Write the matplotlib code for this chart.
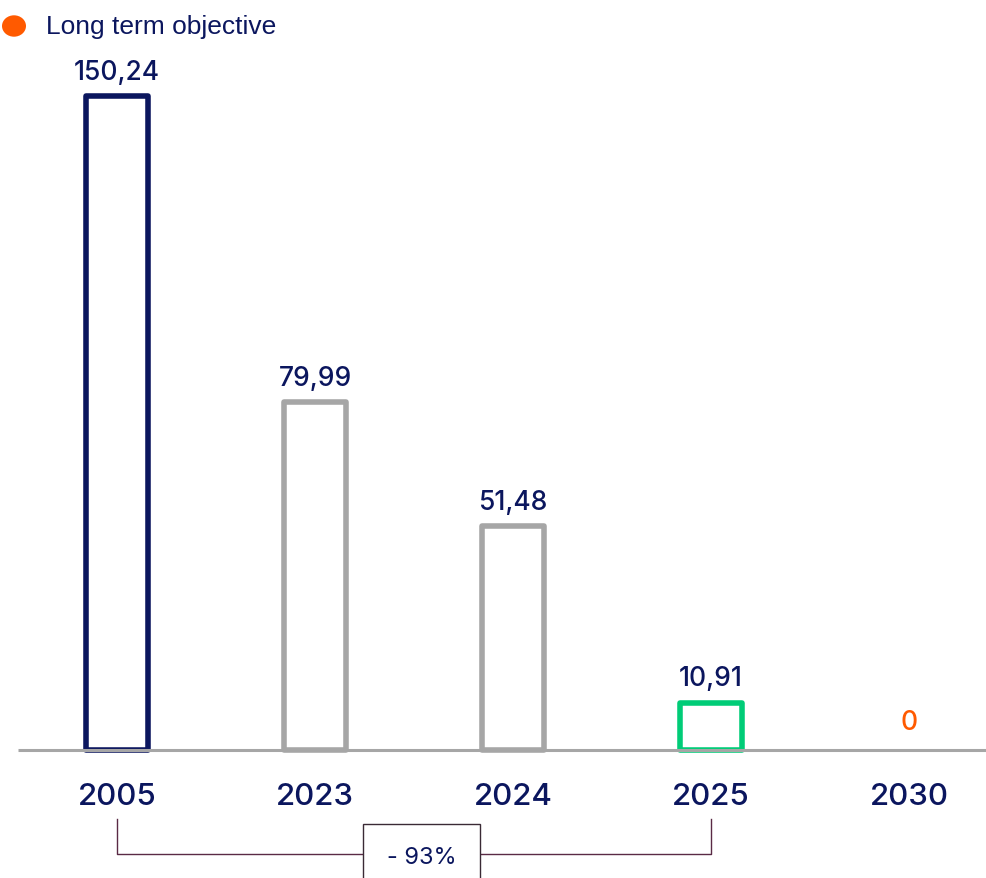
import matplotlib.pyplot as plt
from matplotlib.patches import Rectangle, Circle
import matplotlib.transforms as mtransforms

# --- data ---
years = ['2005', '2023', '2024', '2025', '2030']
values = [150.24, 79.99, 51.48, 10.91, 0]
value_labels = ['150,24', '79,99', '51,48', '10,91', '0']
reduction_label = '- 93%'
legend_label = 'Long term objective'

# --- colours ---
NAVY = '#0b165e'
GREY = '#a6a6a6'
GREEN = '#00cc77'
ORANGE = '#ff5a00'
BRACKET = '#5a2a45'
edge_colors = [NAVY, GREY, GREY, GREEN, ORANGE]
label_colors = [NAVY, NAVY, NAVY, NAVY, ORANGE]

NUM_FONT = ['Inter', 'DejaVu Sans']
plt.rcParams['font.family'] = ['Liberation Sans', 'DejaVu Sans']

fig = plt.figure(figsize=(9.86, 8.79), dpi=100)
ax = fig.add_axes([0, 0, 1, 1])
ax.set_xlim(-0.591, 4.389)
ax.set_ylim(-29.4, 172.5)
ax.axis('off')

x = list(range(len(years)))
bars = ax.bar(x[:4], values[:4], width=0.313, facecolor='white',
              edgecolor=edge_colors[:4], linewidth=4.0, joinstyle='round', zorder=2)

# baseline
ax.plot([-0.5, 4.5], [0, 0], color=GREY, lw=2.2, zorder=3, solid_capstyle='butt')

# value labels
for i, (v, lab) in enumerate(zip(values, value_labels)):
    off = 8 if v > 0 else 11
    ax.annotate(lab, (i, v), xytext=(0, off), textcoords='offset points',
                ha='center', va='bottom', fontsize=19, color=label_colors[i],
                family=NUM_FONT, fontweight='medium')

# year labels
for i, yr in enumerate(years):
    ax.annotate(yr, (i, 0), xytext=(0, -33), textcoords='offset points',
                ha='center', va='center', fontsize=22.5, color=NAVY,
                family=NUM_FONT, fontweight='medium')

# bracket between 2005 and 2025
trans = mtransforms.blended_transform_factory(ax.transData, ax.transAxes)
ax.plot([0, 0, 3, 3], [0.0671, 0.0273, 0.0273, 0.0671], color=BRACKET,
        lw=1, transform=trans, zorder=2)
ax.add_patch(Rectangle((1.242, -0.05), 0.591, 0.1114, transform=trans,
                       facecolor='white', edgecolor='#3a2a35', lw=1, zorder=4))
ax.text(1.5375, 0.024, reduction_label, transform=trans, ha='center', va='center',
        fontsize=17, color=NAVY, zorder=5, family=NUM_FONT)

# legend
fig.patches.append(Circle((14 / 986, 1 - 27 / 879), 12 / 986, transform=fig.transFigure,
                          facecolor=ORANGE, edgecolor='none'))
fig.text(46 / 986, 1 - 27 / 879, legend_label, ha='left', va='center',
         fontsize=19, color=NAVY)

fig.savefig('out.png', dpi=100)
